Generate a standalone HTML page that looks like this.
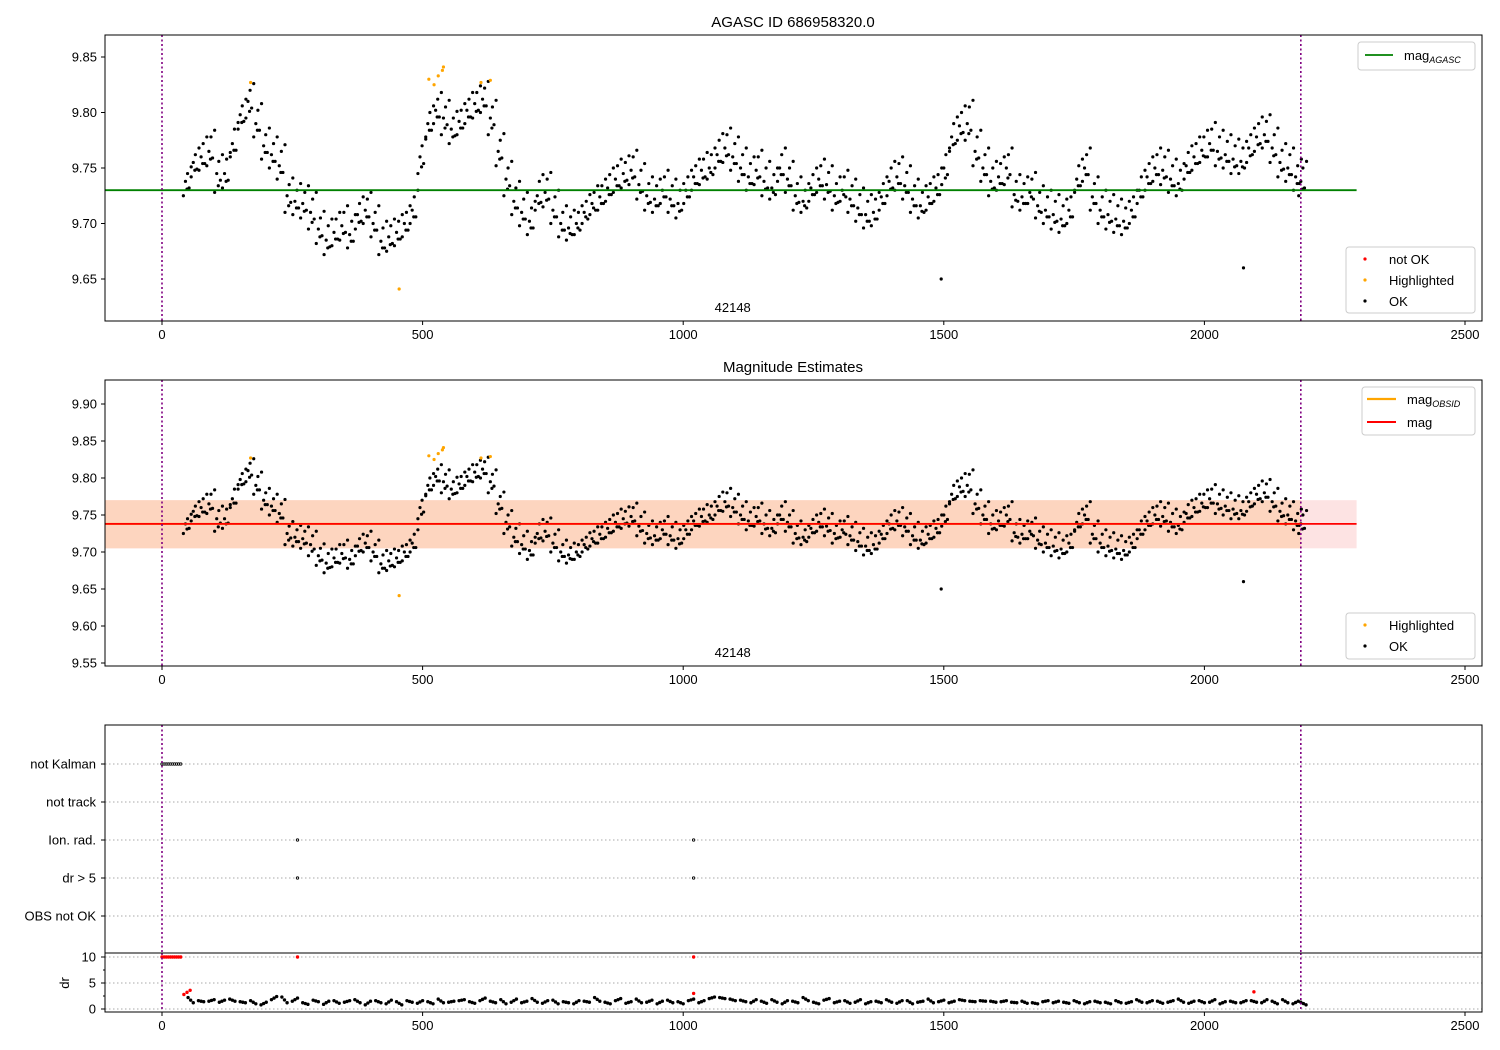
<!DOCTYPE html>
<html><head><meta charset="utf-8"><style>
body{margin:0;background:#fff}
svg{display:block;font-family:"Liberation Sans","DejaVu Sans",sans-serif}
</style></head><body>
<svg id="fig" width="1500" height="1050" xmlns="http://www.w3.org/2000/svg"></svg>
<script>
// ---------- data ----------
const magRows = [
[45,9.725,9.738,9.745],[60,9.742,9.755,9.762],[75,9.748,9.76,9.772],[90,9.752,9.765,9.778],[105,9.728,9.745,9.756],
[120,9.732,9.745,9.758],[135,9.76,9.772,9.785],[150,9.785,9.798,9.806],[165,9.795,9.81,9.82],[180,9.778,9.79,9.802],
[195,9.758,9.77,9.78],[210,9.75,9.762,9.772],[225,9.74,9.752,9.765],[240,9.71,9.725,9.735],[255,9.708,9.72,9.73],
[270,9.705,9.718,9.728],[285,9.695,9.71,9.722],[300,9.682,9.695,9.705],[315,9.672,9.685,9.698],[330,9.68,9.692,9.704],
[345,9.685,9.698,9.71],[360,9.678,9.69,9.702],[375,9.695,9.708,9.718],[390,9.7,9.712,9.722],[405,9.688,9.7,9.71],
[420,9.672,9.684,9.696],[435,9.675,9.688,9.698],[450,9.68,9.692,9.702],[465,9.688,9.7,9.71],[480,9.7,9.712,9.724],
[495,9.745,9.76,9.77],[510,9.778,9.79,9.8],[525,9.79,9.802,9.812],[540,9.78,9.795,9.805],[555,9.772,9.785,9.795],
[570,9.78,9.792,9.802],[585,9.79,9.802,9.812],[600,9.795,9.808,9.818],[615,9.8,9.812,9.822],[630,9.78,9.795,9.805],
[645,9.752,9.765,9.775],[660,9.725,9.74,9.75],[675,9.708,9.72,9.732],[690,9.698,9.71,9.722],[705,9.69,9.702,9.714],
[720,9.712,9.725,9.738],[735,9.715,9.728,9.74],[750,9.7,9.712,9.724],[765,9.688,9.7,9.71],[780,9.685,9.696,9.706],
[795,9.69,9.7,9.71],[810,9.7,9.71,9.72],[825,9.708,9.718,9.728],[840,9.712,9.724,9.734],[855,9.72,9.732,9.744],
[870,9.728,9.74,9.752],[885,9.732,9.745,9.755],[900,9.735,9.748,9.76],[915,9.722,9.735,9.748],[930,9.712,9.725,9.736],
[945,9.71,9.722,9.734],[960,9.718,9.73,9.742],[975,9.71,9.722,9.734],[990,9.705,9.718,9.73],[1005,9.718,9.73,9.742],
[1020,9.73,9.742,9.752],[1035,9.735,9.748,9.758],[1050,9.74,9.75,9.762],[1065,9.75,9.762,9.775],[1080,9.755,9.768,9.78],
[1095,9.748,9.76,9.772],[1110,9.738,9.75,9.762],[1125,9.73,9.742,9.754],[1140,9.735,9.748,9.76],[1155,9.725,9.738,9.75],
[1170,9.722,9.732,9.744],[1185,9.738,9.75,9.762],[1200,9.728,9.74,9.75],[1215,9.712,9.725,9.736],[1230,9.71,9.72,9.73],
[1245,9.72,9.732,9.744],[1260,9.728,9.74,9.752],[1275,9.722,9.735,9.746],[1290,9.712,9.725,9.736],[1305,9.72,9.73,9.742],
[1320,9.71,9.722,9.734],[1335,9.702,9.714,9.726],[1350,9.696,9.708,9.72],[1365,9.698,9.71,9.722],[1380,9.712,9.724,9.736],
[1395,9.725,9.738,9.75],[1410,9.73,9.742,9.754],[1425,9.722,9.734,9.746],[1440,9.71,9.722,9.734],[1455,9.705,9.716,9.728],
[1470,9.712,9.724,9.736],[1485,9.72,9.732,9.744],[1500,9.735,9.75,9.762],[1515,9.765,9.778,9.79],[1530,9.775,9.788,9.8],
[1545,9.775,9.79,9.805],[1560,9.752,9.765,9.778],[1575,9.738,9.75,9.762],[1590,9.725,9.738,9.75],[1605,9.73,9.742,9.754],
[1620,9.735,9.75,9.762],[1635,9.715,9.726,9.738],[1650,9.712,9.724,9.736],[1665,9.718,9.728,9.74],[1680,9.705,9.716,9.728],
[1695,9.7,9.712,9.724],[1710,9.695,9.708,9.72],[1725,9.692,9.704,9.716],[1740,9.7,9.712,9.724],[1755,9.728,9.74,9.752],
[1770,9.738,9.75,9.762],[1785,9.712,9.724,9.736],[1800,9.7,9.712,9.724],[1815,9.695,9.708,9.72],[1830,9.692,9.704,9.716],
[1845,9.69,9.702,9.714],[1860,9.7,9.712,9.724],[1875,9.718,9.73,9.742],[1890,9.73,9.742,9.754],[1905,9.738,9.75,9.762],
[1920,9.735,9.748,9.76],[1935,9.728,9.74,9.752],[1950,9.725,9.736,9.748],[1965,9.74,9.752,9.764],[1980,9.748,9.76,9.772],
[1995,9.755,9.766,9.778],[2010,9.76,9.772,9.785],[2025,9.752,9.765,9.778],[2040,9.75,9.762,9.774],[2055,9.745,9.758,9.77],
[2070,9.745,9.756,9.768],[2085,9.755,9.768,9.78],[2100,9.765,9.778,9.79],[2115,9.768,9.78,9.792],[2130,9.755,9.768,9.78],
[2145,9.742,9.755,9.766],[2160,9.738,9.75,9.762],[2175,9.73,9.742,9.752],[2185,9.725,9.738,9.75]
];
const highX = [170,512,522,530,538,540,612,630,455];
const highY = [9.827,9.83,9.825,9.833,9.838,9.841,9.827,9.829,9.641];
const outX = [1495,2075];
const outY = [9.65,9.66];
const magAgasc = 9.73;
const magMean = 9.738;
const bandLo = 9.705, bandHi = 9.77;
const flagCats = ["not Kalman","not track","Ion. rad.","dr > 5","OBS not OK"];
const flagTimes = [[0,4,8,12,16,20,24,28,32,36],[],[260,1020],[260,1020],[]];
const drRedX = [0,4,8,12,16,20,24,28,32,36,260,1020,42,48,54,1020,2095];
const drRedY = [10,10,10,10,10,10,10,10,10,10,10,10,2.8,3.2,3.6,3,3.3];
const drRows = [
[50,2.2,1.2],[70,1.6,1.4],[90,1.5,1.8],[110,1.3,1.7],[130,1.9,1.5],[150,1.4,1.2],[170,1.6,1.0],[190,0.8,1.3],
[210,1.8,2.4],[230,2.3,1.2],[250,1.5,2.1],[270,1.2,0.9],[290,1.7,1.4],[310,0.9,1.5],[330,1.6,1.1],[350,1.3,1.6],
[370,1.8,1.2],[390,0.8,1.5],[410,1.6,1.2],[430,1.0,1.7],[450,1.4,0.8],[470,1.6,1.3],[490,1.1,1.6],[510,1.4,1.0],
[530,1.9,1.2],[550,1.3,1.5],[570,1.6,1.8],[590,1.4,1.1],[610,1.6,2.1],[630,1.5,1.2],[650,1.8,1.0],[670,1.3,1.9],
[690,1.2,1.5],[710,2.0,1.3],[730,1.1,1.6],[750,1.7,1.0],[770,1.4,1.2],[790,1.0,1.6],[810,1.5,1.3],[830,2.2,1.5],
[850,1.3,1.0],[870,1.6,2.0],[890,1.1,1.4],[910,1.9,1.2],[930,1.3,1.7],[950,1.0,1.5],[970,1.7,1.2],[990,1.4,1.0],
[1010,1.6,1.9],[1030,1.2,1.6],[1050,2.0,2.3],[1070,2.2,2.0],[1090,1.9,1.6],[1110,1.7,1.4],[1130,1.2,1.8],[1150,1.5,1.1],
[1170,1.8,1.3],[1190,1.0,1.6],[1210,1.5,1.2],[1230,2.2,1.6],[1250,1.3,1.0],[1270,1.7,2.0],[1290,1.2,1.5],[1310,1.6,1.1],
[1330,1.3,1.8],[1350,1.0,1.4],[1370,1.5,1.2],[1390,1.8,1.3],[1410,1.1,1.6],[1430,1.6,1.0],[1450,1.3,1.5],[1470,1.9,1.2],
[1490,1.4,1.7],[1510,1.2,1.5],[1530,1.8,1.6],[1550,1.5,1.4],[1570,1.6,1.5],[1590,1.5,1.3],[1610,1.4,1.6],[1630,1.3,1.2],
[1650,1.5,1.1],[1670,1.2,1.0],[1690,1.4,1.6],[1710,1.2,1.5],[1730,1.3,1.1],[1750,1.6,1.2],[1770,1.0,1.4],[1790,1.5,1.2],
[1810,1.3,1.0],[1830,1.6,1.2],[1850,1.1,1.4],[1870,1.8,1.3],[1890,1.2,1.6],[1910,1.5,1.1],[1930,1.3,1.6],[1950,1.9,1.3],
[1970,1.1,1.5],[1990,1.6,1.2],[2010,1.3,1.8],[2030,1.0,1.4],[2050,1.5,1.2],[2070,1.2,1.6],[2090,1.6,1.3],[2110,1.2,1.8],
[2130,1.5,1.0],[2150,1.8,1.2],[2170,1.0,1.5],[2185,1.3,0.8]
];
const xTicks = [0,500,1000,1500,2000,2500];
const yTicks1 = [9.65,9.70,9.75,9.80,9.85];
const yTicks2 = [9.55,9.60,9.65,9.70,9.75,9.80,9.85,9.90];
const drTicks = [0,5,10];
const obsEnd = 2185;
const lineEnd = 2292;

// ---------- helpers ----------
const NS="http://www.w3.org/2000/svg";
const svg=document.getElementById('fig');
function mk(tag,attrs,parent){const e=document.createElementNS(NS,tag);for(const k in attrs)e.setAttribute(k,attrs[k]);(parent||svg).appendChild(e);return e;}
const L=105,R=1482;
const xs=t=>162+t*(1303/2500);
const y1=v=>57+(9.85-v)*1110;
const y2=v=>441+(9.85-v)*740;
const yd=v=>1009-v*5.2;
const catY=i=>764+i*38;
function dots(g,xsArr,ysArr,r,fill){for(let i=0;i<xsArr.length;i++){const c=mk('circle',{cx:xsArr[i],cy:ysArr[i],r:r,fill:fill},g);

}}
function xAxis(top,bottom,name){
  const g=mk('g',{});
  
  
  xTicks.forEach(t=>{const x=xs(t);mk('line',{x1:x,x2:x,y1:bottom,y2:bottom+4,stroke:'#000','stroke-width':1},g);
  const tx=mk('text',{x:x,y:bottom+18,'font-size':13,'text-anchor':'middle'},g);tx.textContent=t;});
}
function frame(top,bottom,name){const r=mk('rect',{x:L,y:top,width:R-L,height:bottom-top,fill:'none',stroke:'#000','stroke-width':1});

}
function vlines(top,bottom){[0,obsEnd].forEach(t=>mk('line',{x1:xs(t),x2:xs(t),y1:top,y2:bottom,stroke:'#800080','stroke-width':1.6,'stroke-dasharray':'2,2.5'}));}
function yAxis(ticks,fn,fmt){ticks.forEach(v=>{const y=fn(v);mk('line',{x1:L-4,x2:L,y1:y,y2:y,stroke:'#000'});
const t=mk('text',{x:L-8,y:y+4.5,'font-size':13,'text-anchor':'end'});t.textContent=fmt(v);});}
function magPoints(g,fn){
  const px=[],py=[];
  magRows.forEach(r=>{for(let k=1;k<r.length;k++){px.push(xs(r[0]+(k-2)*4));py.push(fn(r[k]));px.push(xs(r[0]+(k-2)*4+7));py.push(fn(r[k]+((k%2)?0.006:-0.006)));}});
  dots(g,px,py,1.6,'#000');
  dots(g,outX.map(xs),outY.map(fn),1.6,'#000');
  dots(g,highX.map(xs),highY.map(fn),1.6,'orange');
}

// ---------- panel 1 ----------
(function(){
  const T=35,B=321;
  const title=mk('text',{x:793,y:27,'font-size':15,'text-anchor':'middle'});title.textContent='AGASC ID 686958320.0';
  
  
  const g=mk('g',{});
  
  
  magPoints(g,y1);
  const ln=mk('line',{x1:L,x2:xs(lineEnd),y1:y1(magAgasc),y2:y1(magAgasc),stroke:'green','stroke-width':1.8});
  
  
  vlines(T,B);
  frame(T,B,'axes-top');
  yAxis(yTicks1,y1,v=>v.toFixed(2));
  xAxis(T,B,'x-axis-top');
  const ot=mk('text',{x:xs(1095),y:312,'font-size':13,'text-anchor':'middle'});ot.textContent='42148';
  
  
  // legends
  const lg=mk('g',{});
  
  
  mk('rect',{x:1358,y:42,width:117,height:28,rx:3,fill:'#fff',stroke:'#ccc'},lg);
  mk('line',{x1:1365,x2:1393,y1:55,y2:55,stroke:'green','stroke-width':1.8},lg);
  const t1=mk('text',{x:1404,y:60,'font-size':13},lg);t1.innerHTML='mag<tspan font-size="9" font-style="italic" dy="3">AGASC</tspan>';
  const lg2=mk('g',{});
  
  
  mk('rect',{x:1346,y:247,width:129,height:66,rx:3,fill:'#fff',stroke:'#ccc'},lg2);
  [['red','not OK',259],['orange','Highlighted',280],['#000','OK',301]].forEach(e=>{mk('circle',{cx:1365,cy:e[2],r:1.6,fill:e[0]},lg2);const t=mk('text',{x:1389,y:e[2]+5,'font-size':13},lg2);t.textContent=e[1];});
})();

// ---------- panel 2 ----------
(function(){
  const T=380,B=666;
  const title=mk('text',{x:793,y:372,'font-size':15,'text-anchor':'middle'});title.textContent='Magnitude Estimates';
  
  
  const b1=mk('rect',{x:L,y:y2(bandHi),width:xs(lineEnd)-L,height:y2(bandLo)-y2(bandHi),fill:'#fde3e3'});
  
  
  const b2=mk('rect',{x:L,y:y2(bandHi),width:xs(obsEnd)-L,height:y2(bandLo)-y2(bandHi),fill:'#fdd5bf'});
  
  
  const g=mk('g',{});
  
  
  magPoints(g,y2);
  const lo=mk('line',{x1:L,x2:xs(obsEnd),y1:y2(magMean),y2:y2(magMean),stroke:'orange','stroke-width':2});
  
  
  const lr=mk('line',{x1:L,x2:xs(lineEnd),y1:y2(magMean),y2:y2(magMean),stroke:'red','stroke-width':1.8});
  
  
  vlines(T,B);
  frame(T,B,'axes-middle');
  yAxis(yTicks2,y2,v=>v.toFixed(2));
  xAxis(T,B,'x-axis-middle');
  const ot=mk('text',{x:xs(1095),y:657,'font-size':13,'text-anchor':'middle'});ot.textContent='42148';
  
  
  const lg=mk('g',{});
  
  
  mk('rect',{x:1362,y:387,width:113,height:48,rx:3,fill:'#fff',stroke:'#ccc'},lg);
  mk('line',{x1:1367,x2:1396,y1:399,y2:399,stroke:'orange','stroke-width':2.2},lg);
  const t1=mk('text',{x:1407,y:404,'font-size':13},lg);t1.innerHTML='mag<tspan font-size="9" font-style="italic" dy="3">OBSID</tspan>';
  mk('line',{x1:1367,x2:1396,y1:422,y2:422,stroke:'red','stroke-width':2},lg);
  const t2=mk('text',{x:1407,y:427,'font-size':13},lg);t2.textContent='mag';
  const lg2=mk('g',{});
  
  
  mk('rect',{x:1346,y:613,width:129,height:46,rx:3,fill:'#fff',stroke:'#ccc'},lg2);
  [['orange','Highlighted',625],['#000','OK',646]].forEach(e=>{mk('circle',{cx:1365,cy:e[2],r:1.6,fill:e[0]},lg2);const t=mk('text',{x:1389,y:e[2]+5,'font-size':13},lg2);t.textContent=e[1];});
})();

// ---------- panel 3: flags ----------
(function(){
  const T=725,B=953;
  flagCats.forEach((c,i)=>{const y=catY(i);
    mk('line',{x1:L,x2:R,y1:y,y2:y,stroke:'#aaa','stroke-width':1,'stroke-dasharray':'1.5,2.5'});
    mk('line',{x1:L-4,x2:L,y1:y,y2:y,stroke:'#000'});
    const t=mk('text',{x:L-9,y:y+4.5,'font-size':13,'text-anchor':'end'});t.textContent=c;
    
    
    const g=mk('g',{});
    
    
    flagTimes[i].forEach(tm=>{mk('circle',{cx:xs(tm),cy:y,r:1.2,fill:'#fff',stroke:'#000','stroke-width':0.9},g);});
  });
  vlines(T,B);
  frame(T,B,'axes-flags');
})();

// ---------- panel 4: dr ----------
(function(){
  const T=953,B=1012;
  drTicks.forEach(v=>{const y=yd(v);mk('line',{x1:L,x2:R,y1:y,y2:y,stroke:'#aaa','stroke-dasharray':'1.5,2.5'});
    mk('line',{x1:L-4,x2:L,y1:y,y2:y,stroke:'#000'});
    const t=mk('text',{x:L-9,y:y+4.5,'font-size':13,'text-anchor':'end'});t.textContent=v;});
  [2.5,7.5].forEach(v=>mk('line',{x1:L-2,x2:L,y1:yd(v),y2:yd(v),stroke:'#000'}));
  const yl=mk('text',{x:0,y:0,'font-size':13,'text-anchor':'middle',transform:'translate(69,983) rotate(-90)'});yl.textContent='dr';
  
  
  const g=mk('g',{});
  
  
  const px=[],py=[];
  drRows.forEach(r=>{px.push(xs(r[0]));py.push(yd(r[1]));px.push(xs(r[0]+5));py.push(yd((r[1]+r[2])/2));px.push(xs(r[0]+10));py.push(yd(r[2]));});
  dots(g,px,py,1.7,'#000');
  dots(g,drRedX.map(xs),drRedY.map(yd),1.7,'red');
  vlines(T,B);
  frame(T,B,'axes-dr');
  xAxis(T,B,'x-axis-bottom');
})();
</script>
</body></html>
